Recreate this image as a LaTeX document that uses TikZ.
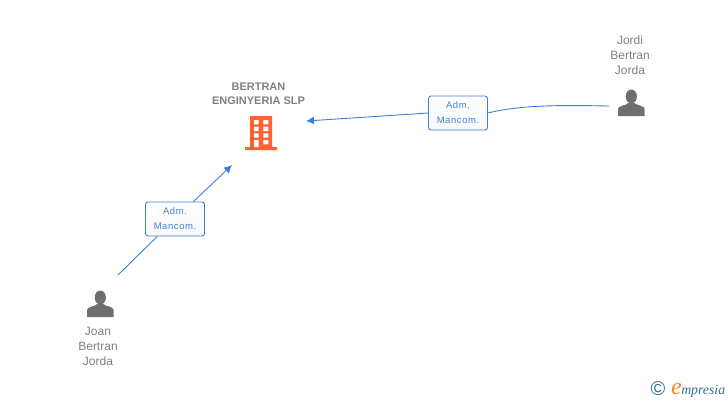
\documentclass[tikz,border=0pt]{standalone}
\usepackage{fontspec}
\setmainfont{Liberation Sans}
\newfontfamily\logofont{Liberation Serif}
\usetikzlibrary{arrows.meta, positioning}

\definecolor{linkblue}{HTML}{3F7FDB}
\definecolor{namegray}{HTML}{808080}
\definecolor{icongray}{HTML}{6E6E6E}
\definecolor{firmorange}{HTML}{FF6232}
\definecolor{logoblue}{HTML}{2F7391}
\definecolor{logoorange}{HTML}{F08A1E}

\tikzset{
  personname/.style={align=center, text=namegray, font=\fontsize{12}{15}\selectfont, inner sep=0pt},
  firmname/.style={align=center, text=namegray, font=\fontsize{11}{14}\selectfont\bfseries, inner sep=0pt},
  rolebox/.style={draw=linkblue, rounded corners=2.5pt, line width=0.9pt, top color=white, bottom color=white!97!black,
    minimum width=59pt, minimum height=34pt, inner sep=0pt, align=center, text=linkblue,
    font=\fontsize{9.5}{15}\selectfont\addfontfeature{LetterSpace=6}},
  link/.style={draw=linkblue, line width=0.9pt},
  person/.pic={
    \fill[icongray] (0,-6.5) circle[x radius=5.6pt, y radius=7pt];
    \fill[icongray] (-13.3,13) -- (-13.3,6) .. controls (-13.3,2.5) and (-5,2.5) .. (-3,0)
      -- (3,0) .. controls (5,2.5) and (13.3,2.5) .. (13.3,6) -- (13.3,13) -- cycle;
  }
}

\begin{document}
\begin{tikzpicture}[x=1pt, y=-1pt]
\useasboundingbox (0,0) rectangle (728,400);

% Firm
\node[firmname] (firm) at (258.5,94) {BERTRAN\\ENGINYERIA SLP};
\fill[firmorange] (250,116) rectangle (272,147) (245,147) rectangle (277,150);
\foreach \y in {120,126.7,133.3} {
  \fill[white] (254,\y) rectangle +(4.7,4.3) (263.3,\y) rectangle +(5,4.3);
}
\fill[white] (263.3,140) rectangle +(5,4.3) (254,140) rectangle (258.7,147);

% People
\node[personname] (joan) at (98,346) {Joan\\Bertran\\Jorda};
\pic at (100.3,304) {person};
\node[personname] (jordi) at (630,55) {Jordi\\Bertran\\Jorda};
\pic at (631.3,103) {person};

% Connector ends
\coordinate (joanend) at (118,275);
\coordinate (firmlow) at (232,165);
\coordinate (jordiend) at (609,106);
\coordinate (firmside) at (306,121);

\node[rolebox] (roleleft) at (175,219) {Adm.\\Mancom.};
\node[rolebox] (roleright) at (458,113) {Adm.\\Mancom.};

\draw[link] (joanend) -- (roleleft);
\draw[link, -{Latex[length=8pt,width=8pt]}] (roleleft) -- (firmlow);
\draw[link] (jordiend) .. controls (560,105) and (520,105) .. (roleright.east);
\draw[link, -{Latex[length=8pt,width=8pt]}] (roleright.west) -- (firmside);

% Logo
\node[inner sep=0pt, text=logoblue, font=\fontsize{20}{20}\selectfont] (copy) at (658,389) {©};
\node[inner sep=0pt, text=logoorange, font=\fontsize{24}{24}\selectfont\logofont\itshape, anchor=base west] (logoe) at (671,394) {e};
\node[inner sep=0pt, text=logoblue, font=\fontsize{13.8}{13.8}\selectfont\logofont\itshape, anchor=base west] (logotext) at ([xshift=-1pt]logoe.base east) {mpresia};
\end{tikzpicture}
\end{document}
